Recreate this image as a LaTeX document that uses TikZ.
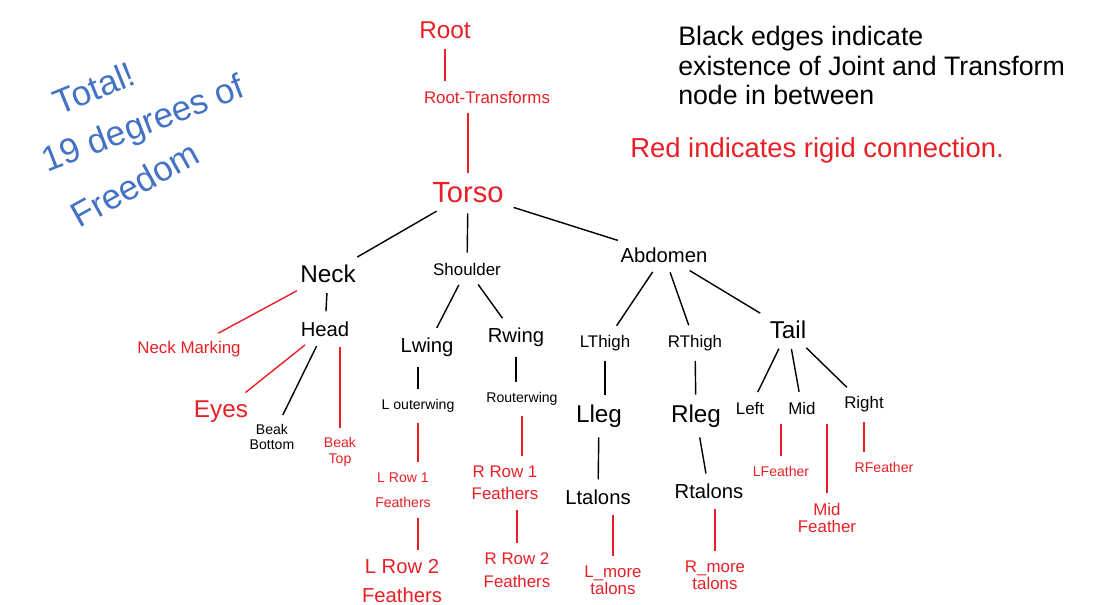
\documentclass[tikz,border=0pt]{standalone}
\usepackage{fontspec}
\setmainfont{Liberation Sans}
\usepackage{tikz}
\usetikzlibrary{positioning}
\definecolor{penred}{RGB}{232,32,38}
\definecolor{penblue}{RGB}{68,114,196}

\begin{document}
\begin{tikzpicture}[x=0.025cm,y=-0.025cm,
    joint/.style={inner sep=4pt,align=center},
    rigid/.style={inner sep=4pt,align=center,text=penred},
    bone/.style={line width=1pt,shorten <=3pt,shorten >=3pt},
    weld/.style={line width=1pt,penred,shorten <=3pt,shorten >=3pt}]
  \useasboundingbox (0,0) rectangle (1093,605);
  % spine
  \node[rigid,font=\LARGE] (root) at (445,30) {Root};
  \node[rigid,font=\large] (roottf) at (487,97) {Root-Transforms};
  \node[rigid,font=\huge] (torso) at (468,193) {Torso};
  \node[joint,font=\LARGE] (neck) at (328,274) {Neck};
  \node[joint,font=\large] (shoulder) at (467,269) {Shoulder};
  \node[joint,font=\Large] (abdomen) at (664,255) {Abdomen};
  % head
  \node[joint,font=\Large] (head) at (325,329) {Head};
  \node[rigid,font=\large] (neckmark) at (189,349) {Neck Marking};
  \node[rigid,font=\LARGE] (eyes) at (221,412) {Eyes};
  \node[joint,font=\normalsize] (beakbot) at (272,437) {Beak\\[-2pt]Bottom};
  \node[rigid,font=\normalsize] (beaktop) at (340,452) {Beak\\[-1pt]Top};
  % wings
  \node[joint,font=\Large] (lwing) at (427,347) {Lwing};
  \node[joint,font=\Large] (rwing) at (516,337) {Rwing};
  \node[joint,font=\normalsize] (louter) at (418,406) {L outerwing};
  \node[joint,font=\normalsize] (router) at (522,399) {Routerwing};
  \node[rigid,font=\normalsize] (lrowone) at (403,490) {L Row 1\\[6pt]Feathers};
  \node[rigid,font=\large] (rrowone) at (505,483) {R Row 1\\[2pt]Feathers};
  \node[rigid,font=\Large] (lrowtwo) at (402,581) {L Row 2\\[2pt]Feathers};
  \node[rigid,font=\large] (rrowtwo) at (517,570) {R Row 2\\[2pt]Feathers};
  % legs
  \node[joint,font=\large] (lthigh) at (605,343) {LThigh};
  \node[joint,font=\large] (rthigh) at (695,343) {RThigh};
  \node[joint,font=\LARGE] (lleg) at (599,416) {Lleg};
  \node[joint,font=\LARGE] (rleg) at (696,416) {Rleg};
  \node[joint,font=\Large] (ltalons) at (598,497) {Ltalons};
  \node[joint,font=\Large] (rtalons) at (709,491) {Rtalons};
  \node[rigid,font=\large] (lmore) at (613,580) {L\_more\\[-2pt]talons};
  \node[rigid,font=\large] (rmore) at (715,575) {R\_more\\[-2pt]talons};
  % tail
  \node[joint,font=\LARGE] (tail) at (788,330) {Tail};
  \node[joint,font=\large] (left) at (750,408) {Left};
  \node[joint,font=\large] (mid) at (802,408) {Mid};
  \node[joint,font=\large] (right) at (864,404) {Right};
  \node[rigid,font=\normalsize] (lfeather) at (781,471) {LFeather};
  \node[rigid,font=\large] (midfeather) at (827,518) {Mid\\[-2pt]Feather};
  \node[rigid,font=\normalsize] (rfeather) at (884,467) {RFeather};

  % black edges: joint and transform in between
  \foreach \a/\b in {torso/neck,torso/shoulder,torso/abdomen,neck/head,head/beakbot,
      shoulder/lwing,shoulder/rwing,abdomen/lthigh,abdomen/rthigh,abdomen/tail,
      lleg/ltalons,rthigh/rleg,rleg/rtalons,tail/left,tail/mid,tail/right}
    \draw[bone] (\a) -- (\b);
  \draw[bone] (lwing.south -| louter) -- (louter.north);
  \draw[bone] (rwing.south) -- (rwing.south |- router.north);
  \draw[bone] (lthigh.south) -- (lthigh.south |- lleg.north);
  % red edges: rigid
  \foreach \a/\b in {neck/neckmark,head/eyes}
    \draw[weld] (\a) -- (\b);
  \draw[weld] (root.south) -- (root.south |- roottf.north);
  \draw[weld] (roottf.south -| torso) -- (torso.north);
  \draw[weld] (head.south -| beaktop) -- (beaktop.north);
  \draw[weld] (louter.south) -- (louter.south |- lrowone.north);
  \draw[weld] (lrowone.south -| louter) -- (lrowtwo.north -| louter);
  \draw[weld] (router.south) -- (router.south |- rrowone.north);
  \draw[weld] (rrowone.south -| rrowtwo) -- (rrowtwo.north);
  \draw[weld] (ltalons.south -| lmore) -- (lmore.north);
  \draw[weld] (rtalons.south -| rmore) -- (rmore.north);
  \draw[weld] (left.south -| lfeather) -- (lfeather.north);
  \draw[weld] (mid.south -| midfeather) -- (midfeather.north);
  \draw[weld] (right.south) -- (right.south |- rfeather.north);

  % notes
  \node[text=penblue,font=\Huge,rotate=22,inner sep=0pt] (total) at (94,88) {Total!};
  \node[text=penblue,font=\Huge,rotate=21,inner sep=0pt] (dof) at (144,126) {19 degrees of};
  \node[text=penblue,font=\Huge,rotate=29,inner sep=0pt] (freedom) at (135,184) {Freedom};
  \node[align=left,anchor=north west,font=\fontsize{19}{21}\selectfont,inner sep=0pt] (legend) at (678,26)
    {Black edges indicate\\existence of Joint and Transform\\node in between};
  \node[text=penred,anchor=west,font=\fontsize{19.5}{22}\selectfont,inner sep=0pt] (rednote) at (630,150)
    {Red indicates rigid connection.};
\end{tikzpicture}
\end{document}
